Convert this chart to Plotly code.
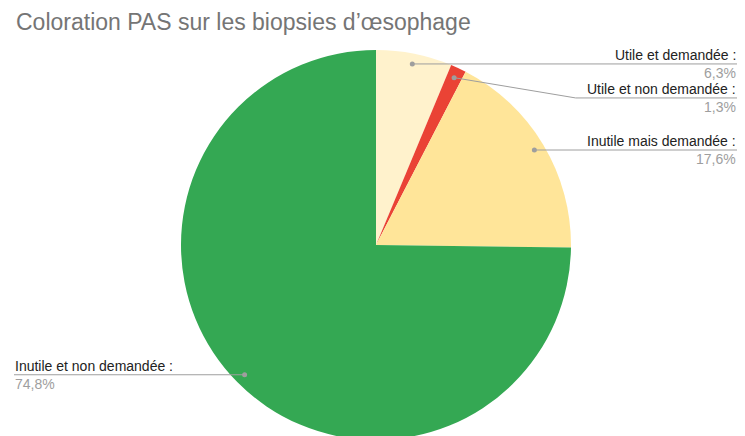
import math
import plotly.graph_objects as go

# ---- data ----
labels = ["Utile et demandée", "Utile et non demandée", "Inutile mais demandée", "Inutile et non demandée"]
values = [6.3, 1.3, 17.6, 74.8]
pct_labels = ["6,3%", "1,3%", "17,6%", "74,8%"]
colors = ["#FFF2CC", "#EA4335", "#FFE599", "#34A853"]
title = "Coloration PAS sur les biopsies d’œsophage"

# ---- layout constants (pixels) ----
W, H = 745, 441
CX, CY, R = 376, 245, 195
DOT_FRAC = 0.947
RIGHT_X, LEFT_X = 737, 14
GAP = 34
FONT = "Liberation Sans, Arial, sans-serif"
FS = 14


def px(x):
    return x / W


def py(y):
    return 1 - y / H


def text_w(s, size=FS):
    return len(s) * size * 0.47


fig = go.Figure(go.Pie(
    labels=labels, values=values, sort=False, direction="clockwise", rotation=0,
    marker=dict(colors=colors, line=dict(width=0)), textinfo="none", showlegend=False,
    domain=dict(x=[px(CX - R), px(CX + R)], y=[py(CY + R), py(CY - R)]),
    hoverinfo="label+percent",
))

total = sum(values)
cum = 0
items = []
for lab, v, p in zip(labels, values, pct_labels):
    mid = (cum + v / 2) / total * 2 * math.pi
    cum += v
    dx = math.sin(mid) * R * DOT_FRAC
    dy = -math.cos(mid) * R * DOT_FRAC
    items.append(dict(lab=lab + " :", pct=p, x=CX + dx, y=CY + dy, right=math.sin(mid) > 0))

# resolve label y for right side (avoid overlaps)
last = -1e9
for it in sorted([i for i in items if i["right"]], key=lambda i: i["y"]):
    it["ly"] = max(it["y"], last + GAP)
    last = it["ly"]
for it in items:
    if not it["right"]:
        it["ly"] = it["y"]

LC = "#9E9E9E"
shapes = []
annotations = [dict(text=title, x=px(14), y=py(22), xref="paper", yref="paper", xanchor="left",
                    yanchor="middle", showarrow=False, font=dict(size=23, color="#757575", family=FONT))]


def seg(x0, y0, x1, y1):
    shapes.append(dict(type="line", xref="paper", yref="paper", x0=px(x0), y0=py(y0),
                       x1=px(x1), y1=py(y1), line=dict(color=LC, width=1)))


for it in items:
    if it["right"]:
        tx, anchor = RIGHT_X, "right"
        if abs(it["ly"] - it["y"]) > 1:
            elbow = RIGHT_X - text_w(it["lab"]) - 10
            seg(it["x"], it["y"], elbow, it["ly"])
            seg(elbow, it["ly"], RIGHT_X, it["ly"])
        else:
            seg(it["x"], it["y"], RIGHT_X, it["ly"])
    else:
        tx, anchor = LEFT_X, "left"
        seg(LEFT_X, it["ly"], it["x"], it["y"])
    shapes.append(dict(type="circle", xref="paper", yref="paper", x0=px(it["x"] - 2.5), x1=px(it["x"] + 2.5),
                       y0=py(it["y"] - 2.5), y1=py(it["y"] + 2.5), fillcolor=LC, line=dict(width=0)))
    annotations.append(dict(text=it["lab"], x=px(tx), y=py(it["ly"]), xref="paper", yref="paper",
                            xanchor=anchor, yanchor="bottom", showarrow=False, borderpad=0,
                            font=dict(size=FS, color="#222222", family=FONT)))
    annotations.append(dict(text=it["pct"], x=px(tx), y=py(it["ly"]), xref="paper", yref="paper",
                            xanchor=anchor, yanchor="top", showarrow=False, borderpad=0,
                            font=dict(size=FS, color="#9E9E9E", family=FONT)))

fig.update_layout(width=W, height=H, margin=dict(l=0, r=0, t=0, b=0), paper_bgcolor="white",
                  shapes=shapes, annotations=annotations)
fig.write_html("out.html", config={"displayModeBar": False},
               post_script="document.body.style.margin='0';document.body.style.overflow='hidden';")
